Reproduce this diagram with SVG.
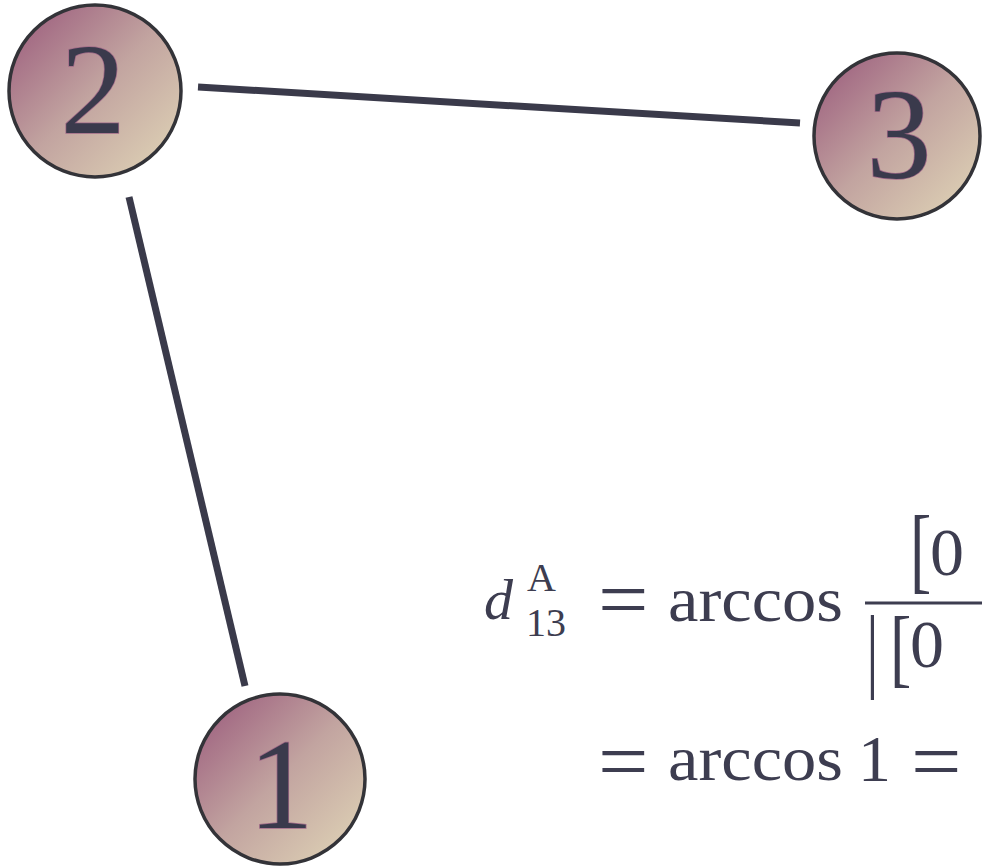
<svg xmlns="http://www.w3.org/2000/svg" width="982" height="868" viewBox="0 0 982 868">
<defs>
<linearGradient id="nodeGrad" x1="0" y1="0" x2="1" y2="1">
<stop offset="0" stop-color="#98567a"/>
<stop offset="0.5" stop-color="#c2a4a0"/>
<stop offset="1" stop-color="#e2d8b8"/>
</linearGradient>
<style>
.node circle{fill:url(#nodeGrad);stroke:#333338;stroke-width:3.5}
.node text{font-family:"Liberation Serif",serif;font-size:130px;fill:#3a3a4c;stroke:#a06a88;stroke-width:1.5;paint-order:stroke;text-anchor:middle}
.edge{stroke:#3a3a4a;stroke-width:7;fill:none}
.m{font-family:"Liberation Serif",serif;fill:#3d3d50}
</style>
</defs>
<rect width="982" height="868" fill="#ffffff"/>
<g id="connectors">
<line class="edge" x1="198" y1="87" x2="800" y2="123"/>
<line class="edge" x1="129" y1="197" x2="245" y2="686"/>
</g>
<g id="node2" class="node">
<circle cx="95" cy="91" r="86"/>
<text x="93" y="133">2</text>
</g>
<g id="node3" class="node">
<circle cx="897" cy="136" r="83"/>
<text x="899" y="178">3</text>
</g>
<g id="node1" class="node">
<circle cx="280" cy="779" r="85"/>
<text x="281" y="828">1</text>
</g>
<g id="formula">
<text class="m" x="484" y="619" font-size="58" font-style="italic">d</text>
<text class="m" x="527" y="591" font-size="40">A</text>
<text class="m" x="526" y="636" font-size="40">13</text>
<text class="m" font-size="64" transform="translate(598,627) scale(1.4,1.3)">=</text>
<text class="m" x="668" y="621" font-size="64" textLength="175" lengthAdjust="spacingAndGlyphs">arccos</text>
<line x1="865" y1="603" x2="982" y2="603" stroke="#3d3d50" stroke-width="3"/>
<text class="m" font-size="64" transform="translate(910,581) scale(1,1.5)">[</text>
<text class="m" x="930" y="575" font-size="68">0</text>
<text class="m" font-size="64" transform="translate(866,680) scale(1,1.45)">|</text>
<text class="m" font-size="64" transform="translate(890,676) scale(1,1.35)">[</text>
<text class="m" x="910" y="667" font-size="68">0</text>
<text class="m" font-size="64" transform="translate(598,789) scale(1.4,1.3)">=</text>
<text class="m" x="668" y="780" font-size="64" textLength="175" lengthAdjust="spacingAndGlyphs">arccos</text>
<text class="m" x="858" y="781" font-size="66">1</text>
<text class="m" font-size="64" transform="translate(911,789) scale(1.4,1.3)">=</text>
</g>
</svg>
